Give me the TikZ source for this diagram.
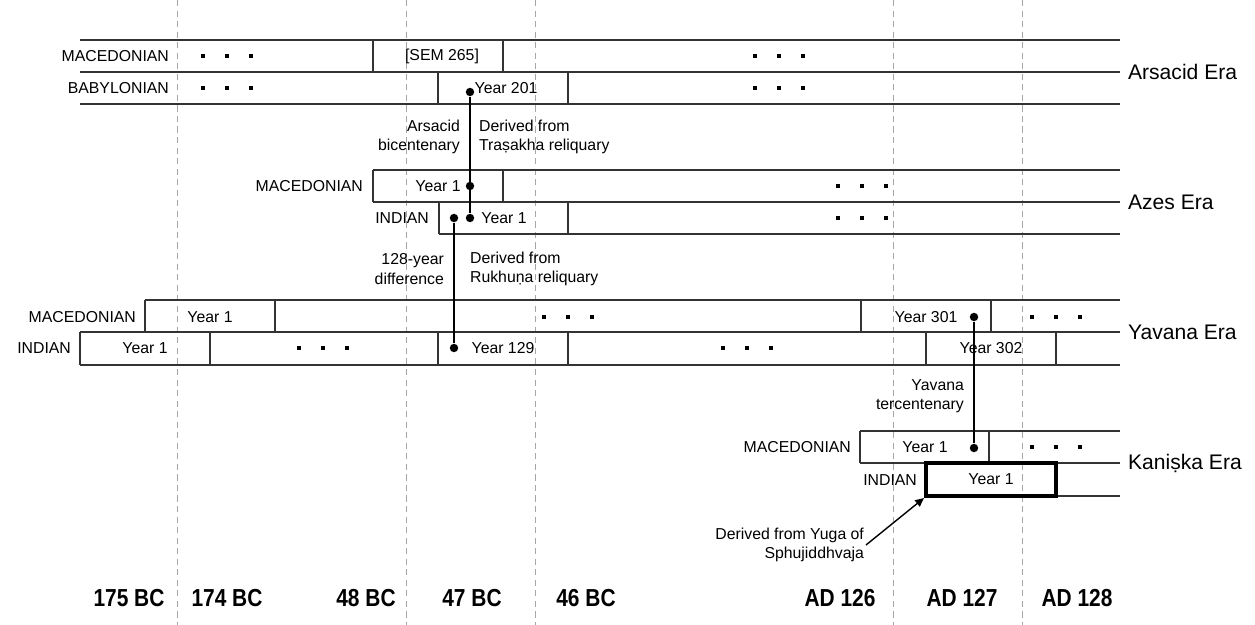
\documentclass[tikz,border=0pt]{standalone}
\usepackage{fontspec}
\setmainfont{Liberation Sans}
\newfontfamily\yearfont[FakeStretch=0.85]{Liberation Sans Bold}
\usepackage{tikz}
\usetikzlibrary{arrows.meta,positioning}
\colorlet{rulecol}{black!80}
\colorlet{guidecol}{black!35}
\newcommand{\etcdots}{\rule{2.3pt}{2.3pt}\hspace{11.3pt}\rule{2.3pt}{2.3pt}\hspace{11.3pt}\rule{2.3pt}{2.3pt}}

\begin{document}
\begin{tikzpicture}[x=0.02cm,y=-0.02cm,
  every node/.style={font=\fontsize{9}{11}\selectfont,inner sep=1pt},
  row/.style={draw=rulecol,line width=0.75pt},
  guide/.style={draw=guidecol,line width=0.5pt,dash pattern=on 3.5pt off 2.5pt},
  pin/.style={circle,fill=black,inner sep=0pt,minimum size=4.8pt},
  link/.style={line width=1.2pt},
  era/.style={font=\fontsize{12}{14}\selectfont,anchor=west},
  cal/.style={anchor=east},
  note/.style={align=right,anchor=east},
  src/.style={align=left,anchor=west},
  yr/.style={font=\yearfont\fontsize{14}{16}\selectfont},
  kbox/.style={draw,line width=2.3pt,minimum width=2.6cm,minimum height=0.66cm}
]
  \useasboundingbox (0,0) rectangle (1255,625);
  \foreach \x in {177,406,535,893,1022}
    \draw[guide] (\x,0) -- (\x,625);

  % Arsacid era
  \draw[row] (80,40) -- (1120,40) (80,72) -- (1120,72) (80,104) -- (1120,104);
  \draw[row] (373,40) -- (373,72) (503,40) -- (503,72)
             (438,72) -- (438,104) (568,72) -- (568,104);
  \node[cal] (arsmac) at (171,56) {MACEDONIAN};
  \node[cal] (arsbab) at (171,88) {BABYLONIAN};
  \node (arsd1) at (227,56) {\etcdots};
  \node (arsd2) at (227,88) {\etcdots};
  \node (arsd3) at (779,56) {\etcdots};
  \node (arsd4) at (779,88) {\etcdots};
  \node (sem) at (442,56) {[SEM 265]};
  \node (ars201) at (506,88) {Year 201};
  \node[era] (arsera) at (1126,72) {Arsacid Era};

  % Azes era
  \draw[row] (373,170) -- (1120,170) (373,202) -- (1120,202) (439,234) -- (1120,234);
  \draw[row] (373,170) -- (373,202) (503,170) -- (503,202)
             (439,202) -- (439,234) (568,202) -- (568,234);
  \node[cal] (azmac) at (365,186) {MACEDONIAN};
  \node (az1m) at (438,186) {Year 1};
  \node[cal] (azind) at (431,218) {INDIAN};
  \node (az1i) at (504,218) {Year 1};
  \node (azd1) at (862,186) {\etcdots};
  \node (azd2) at (862,218) {\etcdots};
  \node[era] (azera) at (1126,202) {Azes Era};

  % Yavana era
  \draw[row] (145,300) -- (1120,300) (80,332) -- (1120,332) (80,365) -- (1120,365);
  \foreach \x in {145,275,861,991}
    \draw[row] (\x,300) -- (\x,332);
  \foreach \x in {80,210,438,568,926,1056}
    \draw[row] (\x,332) -- (\x,365);
  \node[cal] (yvmac) at (138,317) {MACEDONIAN};
  \node (yv1m) at (210,317) {Year 1};
  \node (yvd1) at (568,317) {\etcdots};
  \node (yv301) at (926,317) {Year 301};
  \node (yvd2) at (1056,317) {\etcdots};
  \node[cal] (yvind) at (73,348) {INDIAN};
  \node (yv1i) at (145,348) {Year 1};
  \node (yvd3) at (323,348) {\etcdots};
  \node (yv129) at (503,348) {Year 129};
  \node (yvd4) at (747,348) {\etcdots};
  \node (yv302) at (991,348) {Year 302};
  \node[era] (yvera) at (1126,332) {Yavana Era};

  % Kaniska era
  \draw[row] (860,431) -- (1120,431) (860,463) -- (1120,463) (1056,496) -- (1120,496);
  \draw[row] (860,431) -- (860,463) (989,431) -- (989,463);
  \node[cal] (kamac) at (853,447) {MACEDONIAN};
  \node (ka1m) at (925,447) {Year 1};
  \node (kad1) at (1056,447) {\etcdots};
  \node[cal] (kaind) at (919,480) {INDIAN};
  \node[kbox] (kin) at (991,479.5) {Year 1};
  \node[era] (kaera) at (1126,463) {Kaniṣka Era};

  % pins and links
  \node[pin] (p201) at (470,92) {};
  \node[pin] (paz1) at (470,186) {};
  \node[pin] (paz2) at (470,218) {};
  \node[pin] (paz3) at (454,218) {};
  \node[pin] (p129) at (454,348) {};
  \node[pin] (p301) at (974,317) {};
  \node[pin] (pka) at (974,448) {};
  \draw[link] (p201) -- (paz2);
  \draw[link] (paz3) -- (p129);
  \draw[link] (p301) -- (pka);

  \node[note] (bicent) at (462,137) {Arsacid\\bicentenary};
  \node[src] (trasakha) at (477,137) {Derived from\\Traṣakha reliquary};
  \node[note] (diff) at (446,269) {128-year\\difference};
  \node[src] (rukhuna) at (468,269) {Derived from\\Rukhuṇa reliquary};
  \node[note] (tercent) at (966,396) {Yavana\\tercentenary};
  \node[note] (yuga) at (866,545) {Derived from Yuga of\\Sphujiddhvaja};
  \draw[-{Triangle[length=5pt,width=4.5pt]},line width=0.8pt] (yuga.east) -- (kin.south west);

  % years
  \foreach \t/\x [count=\i] in {175 BC/129,174 BC/227,48 BC/366,47 BC/472,
      46 BC/586,AD 126/840,AD 127/962,AD 128/1077}
    \node[yr] (year\i) at (\x,598) {\t};
\end{tikzpicture}
\end{document}
